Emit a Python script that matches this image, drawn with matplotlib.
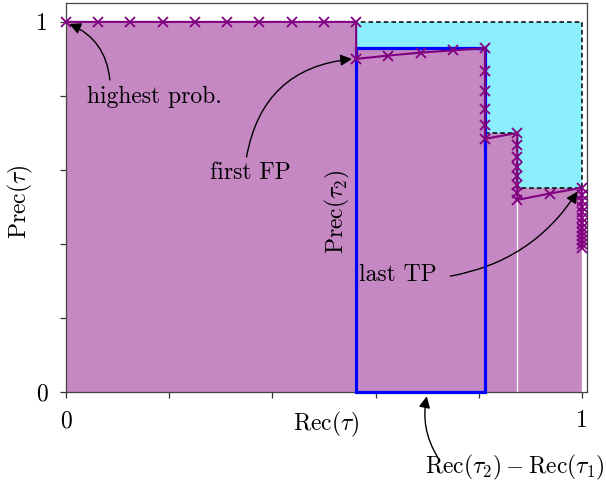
import numpy as np
import matplotlib
matplotlib.use("Agg")
import matplotlib.pyplot as plt
from matplotlib.patches import Rectangle

plt.rcParams['font.family'] = 'serif'
plt.rcParams['font.serif'] = ['cmr10']
plt.rcParams['mathtext.fontset'] = 'cm'
plt.rcParams['axes.unicode_minus'] = False
plt.rcParams['axes.formatter.use_mathtext'] = True

# precision/recall points of the ranked list (16 positives)
recall = [0, 0.0625, 0.125, 0.1875, 0.25, 0.3125, 0.375, 0.4375, 0.5, 0.5625,
          0.5625, 0.625, 0.6875, 0.75, 0.8125,
          0.8125, 0.8125, 0.8125, 0.8125, 0.8125,
          0.875, 0.875, 0.875, 0.875, 0.875, 0.875, 0.875, 0.875,
          0.9375, 1.0,
          1.0, 1.0, 1.0, 1.0, 1.0, 1.0, 1.0, 1.0, 1.0, 1.0, 1.0, 1.0]
precision = [1, 1, 1, 1, 1, 1, 1, 1, 1, 1,
             0.9, 0.909, 0.917, 0.923, 0.929,
             0.867, 0.8125, 0.765, 0.722, 0.684,
             0.7, 0.667, 0.636, 0.609, 0.583, 0.56, 0.538, 0.519,
             0.536, 0.552,
             0.533, 0.516, 0.5, 0.485, 0.471, 0.457, 0.444, 0.432, 0.421, 0.41, 0.4, 0.39]

# interpolated (max to the right) precision
env_recall = [0, 0.5625, 0.5625, 0.8125, 0.8125, 0.875, 0.875, 1.0]
env_prec = [1, 1, 0.929, 0.929, 0.7, 0.7, 0.552, 0.552]

# thresholds tau_1, tau_2
rec_t1 = 0.5625
rec_t2 = 0.8125
prec_t2 = 0.929

purple = '#800080'
fill_purple = '#C588C3'
fill_cyan = '#8AEEFC'
fs = 17

fig = plt.figure(figsize=(6.06, 4.91), dpi=100)
ax = fig.add_axes([66/606, 1 - 392/491, (587-66)/606, (392-3)/491])

r = np.array(recall)
p = np.array(precision)
er = np.array(env_recall)
ep = np.array(env_prec)

# fills
ax.fill_between(er, ep, 0, color=fill_purple, lw=0, zorder=1)
m = er >= rec_t1
ax.fill_between(er[m][1:], ep[m][1:], 1, color=fill_cyan, lw=0, zorder=1)

# seams where the fill polygons meet
for x in [0.875, 1.0]:
    ax.plot([x, x], [0, p[r == x].min()], color='white', lw=0.9, zorder=2)

# dashed outline of the gap
dash_x = list(er[m][1:]) + [1.0, rec_t1]
dash_y = list(ep[m][1:]) + [1.0, 1.0]
ax.plot(dash_x, dash_y, color='black', lw=1.1, ls=(0, (3, 2)), zorder=3)

# rectangle for one step
ax.add_patch(Rectangle((rec_t1, 0), rec_t2 - rec_t1, prec_t2, fill=False,
                       edgecolor='blue', lw=2.3, zorder=4, clip_on=False))

# pr curve
ax.plot(r, p, color=purple, lw=1.5, marker='x', ms=7, mew=1.3, zorder=5,
        clip_on=False)

# annotations
arw = dict(arrowstyle='-|>', color='black', lw=1.0, mutation_scale=17,
           shrinkA=0, shrinkB=1)
ax.text(0.172, 0.797, 'highest prob.', fontsize=fs, ha='center', va='center')
ax.annotate('', xy=(0.004, 0.996), xytext=(0.085, 0.843),
            arrowprops=dict(connectionstyle='arc3,rad=0.3', **arw))
ax.text(0.358, 0.592, 'first FP', fontsize=fs, ha='center', va='center')
ax.annotate('', xy=(0.557, 0.9), xytext=(0.350, 0.635),
            arrowprops=dict(connectionstyle='arc3,rad=-0.38', **arw))
ax.text(0.643, 0.316, 'last TP', fontsize=fs, ha='center', va='center')
ax.annotate('', xy=(0.993, 0.545), xytext=(0.745, 0.313),
            arrowprops=dict(connectionstyle='arc3,rad=0.22', **arw))
ax.text(0.527, 0.486, r'$\mathrm{Prec}(\tau_2)$', fontsize=fs, rotation=90,
        ha='center', va='center')
ax.text(0.871, -0.205, r'$\mathrm{Rec}(\tau_2)-\mathrm{Rec}(\tau_1)$',
        fontsize=fs, ha='center', va='center', clip_on=False)
ax.annotate('', xy=(0.70, -0.008), xytext=(0.72, -0.175),
            arrowprops=dict(connectionstyle='arc3,rad=-0.2', **arw),
            annotation_clip=False)

ax.set_xlim(0, 1.01)
ax.set_ylim(0, 1.051)
ticks = [0, 0.2, 0.4, 0.6, 0.8, 1.0]
tick_labels = ['0', '', '', '', '', '1']
ax.set_xticks(ticks)
ax.set_xticklabels(tick_labels)
ax.set_yticks(ticks)
ax.set_yticklabels(tick_labels)
ax.tick_params(direction='out', length=4, width=0.9, color='#333333',
               labelsize=fs, pad=9)
for s in ax.spines.values():
    s.set_color('#444444')
    s.set_linewidth(0.9)

ax.set_xlabel(r'$\mathrm{Rec}(\tau)$', fontsize=fs)
ax.xaxis.set_label_coords(0.5, -0.045)
ax.set_ylabel(r'$\mathrm{Prec}(\tau)$', fontsize=fs)
ax.yaxis.set_label_coords(-0.06, 0.49)

fig.savefig('out.png', dpi=100)
